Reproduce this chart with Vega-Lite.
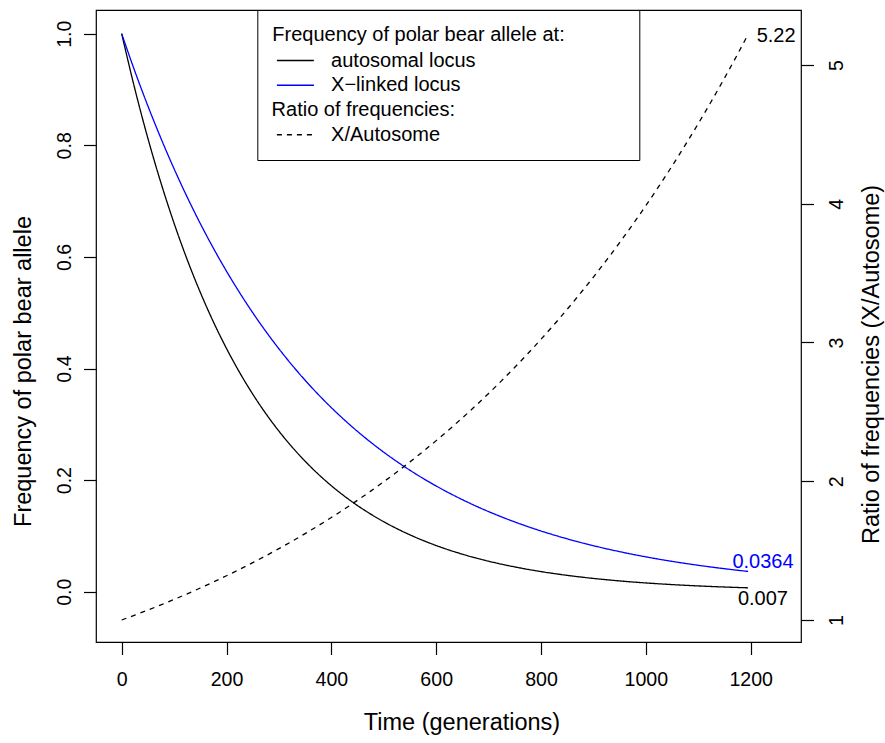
{
  "$schema": "https://vega.github.io/schema/vega-lite/v6.json",
  "width": 705,
  "height": 632,
  "autosize": {"type": "none"},
  "padding": {"left": 96, "top": 10, "right": 84, "bottom": 101},
  "background": "white",
  "config": {
    "font": "Liberation Sans",
    "view": {"stroke": "black", "strokeWidth": 1.2},
    "axis": {
      "domain": false, "grid": false, "tickSize": 12.5, "tickColor": "black", "tickWidth": 1.2,
      "labelColor": "black", "labelFontSize": 19.6, "labelOverlap": false, "labelFlush": false,
      "titleColor": "black", "titleFontSize": 23.5, "titleFontWeight": "normal"
    },
    "legend": {"titleFontWeight": "normal"}
  },
  "datasets": {
    "freq": [
      {"t": 0, "series": "autosomal locus", "freq": 1}, {"t": 0, "series": "X−linked locus", "freq": 1},
      {"t": 25, "series": "autosomal locus", "freq": 0.9014}, {"t": 25, "series": "X−linked locus", "freq": 0.93303},
      {"t": 50, "series": "autosomal locus", "freq": 0.81253}, {"t": 50, "series": "X−linked locus", "freq": 0.87055},
      {"t": 75, "series": "autosomal locus", "freq": 0.73241}, {"t": 75, "series": "X−linked locus", "freq": 0.81225},
      {"t": 100, "series": "autosomal locus", "freq": 0.6602}, {"t": 100, "series": "X−linked locus", "freq": 0.75786},
      {"t": 125, "series": "autosomal locus", "freq": 0.5951}, {"t": 125, "series": "X−linked locus", "freq": 0.70711},
      {"t": 150, "series": "autosomal locus", "freq": 0.53643}, {"t": 150, "series": "X−linked locus", "freq": 0.65975},
      {"t": 175, "series": "autosomal locus", "freq": 0.48354}, {"t": 175, "series": "X−linked locus", "freq": 0.61557},
      {"t": 200, "series": "autosomal locus", "freq": 0.43586}, {"t": 200, "series": "X−linked locus", "freq": 0.57435},
      {"t": 225, "series": "autosomal locus", "freq": 0.39289}, {"t": 225, "series": "X−linked locus", "freq": 0.53589},
      {"t": 250, "series": "autosomal locus", "freq": 0.35415}, {"t": 250, "series": "X−linked locus", "freq": 0.5},
      {"t": 275, "series": "autosomal locus", "freq": 0.31923}, {"t": 275, "series": "X−linked locus", "freq": 0.46652},
      {"t": 300, "series": "autosomal locus", "freq": 0.28775}, {"t": 300, "series": "X−linked locus", "freq": 0.43528},
      {"t": 325, "series": "autosomal locus", "freq": 0.25938}, {"t": 325, "series": "X−linked locus", "freq": 0.40613},
      {"t": 350, "series": "autosomal locus", "freq": 0.23381}, {"t": 350, "series": "X−linked locus", "freq": 0.37893},
      {"t": 375, "series": "autosomal locus", "freq": 0.21076}, {"t": 375, "series": "X−linked locus", "freq": 0.35355},
      {"t": 400, "series": "autosomal locus", "freq": 0.18997}, {"t": 400, "series": "X−linked locus", "freq": 0.32988},
      {"t": 425, "series": "autosomal locus", "freq": 0.17124}, {"t": 425, "series": "X−linked locus", "freq": 0.30779},
      {"t": 450, "series": "autosomal locus", "freq": 0.15436}, {"t": 450, "series": "X−linked locus", "freq": 0.28718},
      {"t": 475, "series": "autosomal locus", "freq": 0.13914}, {"t": 475, "series": "X−linked locus", "freq": 0.26794},
      {"t": 500, "series": "autosomal locus", "freq": 0.12542}, {"t": 500, "series": "X−linked locus", "freq": 0.25},
      {"t": 525, "series": "autosomal locus", "freq": 0.11305}, {"t": 525, "series": "X−linked locus", "freq": 0.23326},
      {"t": 550, "series": "autosomal locus", "freq": 0.10191}, {"t": 550, "series": "X−linked locus", "freq": 0.21764},
      {"t": 575, "series": "autosomal locus", "freq": 0.09186}, {"t": 575, "series": "X−linked locus", "freq": 0.20306},
      {"t": 600, "series": "autosomal locus", "freq": 0.0828}, {"t": 600, "series": "X−linked locus", "freq": 0.18947},
      {"t": 625, "series": "autosomal locus", "freq": 0.07464}, {"t": 625, "series": "X−linked locus", "freq": 0.17678},
      {"t": 650, "series": "autosomal locus", "freq": 0.06728}, {"t": 650, "series": "X−linked locus", "freq": 0.16494},
      {"t": 675, "series": "autosomal locus", "freq": 0.06065}, {"t": 675, "series": "X−linked locus", "freq": 0.15389},
      {"t": 700, "series": "autosomal locus", "freq": 0.05467}, {"t": 700, "series": "X−linked locus", "freq": 0.14359},
      {"t": 725, "series": "autosomal locus", "freq": 0.04928}, {"t": 725, "series": "X−linked locus", "freq": 0.13397},
      {"t": 750, "series": "autosomal locus", "freq": 0.04442}, {"t": 750, "series": "X−linked locus", "freq": 0.125},
      {"t": 775, "series": "autosomal locus", "freq": 0.04004}, {"t": 775, "series": "X−linked locus", "freq": 0.11663},
      {"t": 800, "series": "autosomal locus", "freq": 0.03609}, {"t": 800, "series": "X−linked locus", "freq": 0.10882},
      {"t": 825, "series": "autosomal locus", "freq": 0.03253}, {"t": 825, "series": "X−linked locus", "freq": 0.10153},
      {"t": 850, "series": "autosomal locus", "freq": 0.02932}, {"t": 850, "series": "X−linked locus", "freq": 0.09473},
      {"t": 875, "series": "autosomal locus", "freq": 0.02643}, {"t": 875, "series": "X−linked locus", "freq": 0.08839},
      {"t": 900, "series": "autosomal locus", "freq": 0.02383}, {"t": 900, "series": "X−linked locus", "freq": 0.08247},
      {"t": 925, "series": "autosomal locus", "freq": 0.02148}, {"t": 925, "series": "X−linked locus", "freq": 0.07695},
      {"t": 950, "series": "autosomal locus", "freq": 0.01936}, {"t": 950, "series": "X−linked locus", "freq": 0.07179},
      {"t": 975, "series": "autosomal locus", "freq": 0.01745}, {"t": 975, "series": "X−linked locus", "freq": 0.06699},
      {"t": 1000, "series": "autosomal locus", "freq": 0.01573}, {"t": 1000, "series": "X−linked locus", "freq": 0.0625},
      {"t": 1025, "series": "autosomal locus", "freq": 0.01418}, {"t": 1025, "series": "X−linked locus", "freq": 0.05832},
      {"t": 1050, "series": "autosomal locus", "freq": 0.01278}, {"t": 1050, "series": "X−linked locus", "freq": 0.05441},
      {"t": 1075, "series": "autosomal locus", "freq": 0.01152}, {"t": 1075, "series": "X−linked locus", "freq": 0.05077},
      {"t": 1100, "series": "autosomal locus", "freq": 0.01039}, {"t": 1100, "series": "X−linked locus", "freq": 0.04737},
      {"t": 1125, "series": "autosomal locus", "freq": 0.00936}, {"t": 1125, "series": "X−linked locus", "freq": 0.04419},
      {"t": 1150, "series": "autosomal locus", "freq": 0.00844}, {"t": 1150, "series": "X−linked locus", "freq": 0.04124},
      {"t": 1175, "series": "autosomal locus", "freq": 0.00761}, {"t": 1175, "series": "X−linked locus", "freq": 0.03847},
      {"t": 1195, "series": "autosomal locus", "freq": 0.007}, {"t": 1195, "series": "X−linked locus", "freq": 0.0364}
    ],
    "ratio": [
      {"t": 0, "series": "X/Autosome", "ratio": 1}, {"t": 25, "series": "X/Autosome", "ratio": 1.03518},
      {"t": 50, "series": "X/Autosome", "ratio": 1.07159}, {"t": 75, "series": "X/Autosome", "ratio": 1.10928},
      {"t": 100, "series": "X/Autosome", "ratio": 1.1483}, {"t": 125, "series": "X/Autosome", "ratio": 1.18869},
      {"t": 150, "series": "X/Autosome", "ratio": 1.23051}, {"t": 175, "series": "X/Autosome", "ratio": 1.27379},
      {"t": 200, "series": "X/Autosome", "ratio": 1.3186}, {"t": 225, "series": "X/Autosome", "ratio": 1.36498},
      {"t": 250, "series": "X/Autosome", "ratio": 1.41299}, {"t": 275, "series": "X/Autosome", "ratio": 1.4627},
      {"t": 300, "series": "X/Autosome", "ratio": 1.51415}, {"t": 325, "series": "X/Autosome", "ratio": 1.56741},
      {"t": 350, "series": "X/Autosome", "ratio": 1.62254}, {"t": 375, "series": "X/Autosome", "ratio": 1.67962},
      {"t": 400, "series": "X/Autosome", "ratio": 1.7387}, {"t": 425, "series": "X/Autosome", "ratio": 1.79986},
      {"t": 450, "series": "X/Autosome", "ratio": 1.86317}, {"t": 475, "series": "X/Autosome", "ratio": 1.92871},
      {"t": 500, "series": "X/Autosome", "ratio": 1.99655}, {"t": 525, "series": "X/Autosome", "ratio": 2.06678},
      {"t": 550, "series": "X/Autosome", "ratio": 2.13948}, {"t": 575, "series": "X/Autosome", "ratio": 2.21474},
      {"t": 600, "series": "X/Autosome", "ratio": 2.29264}, {"t": 625, "series": "X/Autosome", "ratio": 2.37329},
      {"t": 650, "series": "X/Autosome", "ratio": 2.45677}, {"t": 675, "series": "X/Autosome", "ratio": 2.54319},
      {"t": 700, "series": "X/Autosome", "ratio": 2.63264}, {"t": 725, "series": "X/Autosome", "ratio": 2.72525},
      {"t": 750, "series": "X/Autosome", "ratio": 2.82111}, {"t": 775, "series": "X/Autosome", "ratio": 2.92034},
      {"t": 800, "series": "X/Autosome", "ratio": 3.02307}, {"t": 825, "series": "X/Autosome", "ratio": 3.12941},
      {"t": 850, "series": "X/Autosome", "ratio": 3.23948}, {"t": 875, "series": "X/Autosome", "ratio": 3.35343},
      {"t": 900, "series": "X/Autosome", "ratio": 3.47139}, {"t": 925, "series": "X/Autosome", "ratio": 3.5935},
      {"t": 950, "series": "X/Autosome", "ratio": 3.7199}, {"t": 975, "series": "X/Autosome", "ratio": 3.85076},
      {"t": 1000, "series": "X/Autosome", "ratio": 3.98621}, {"t": 1025, "series": "X/Autosome", "ratio": 4.12642},
      {"t": 1050, "series": "X/Autosome", "ratio": 4.27157}, {"t": 1075, "series": "X/Autosome", "ratio": 4.42183},
      {"t": 1100, "series": "X/Autosome", "ratio": 4.57737}, {"t": 1125, "series": "X/Autosome", "ratio": 4.73838},
      {"t": 1150, "series": "X/Autosome", "ratio": 4.90505}, {"t": 1175, "series": "X/Autosome", "ratio": 5.07759},
      {"t": 1195, "series": "X/Autosome", "ratio": 5.22}
    ]
  },
  "layer": [
    {
      "data": {"name": "freq"},
      "encoding": {
        "x": {
          "field": "t", "type": "quantitative",
          "scale": {"domain": [-49, 1296], "nice": false, "zero": false},
          "axis": {"values": [0, 200, 400, 600, 800, 1000, 1200], "format": "d", "labelPadding": 16,
                   "title": "Time (generations)", "titleX": 365.5, "titleY": 87, "titleAlign": "center", "titleBaseline": "alphabetic"}
        },
        "y": {
          "field": "freq", "type": "quantitative",
          "scale": {"domain": [-0.0901, 1.0425], "nice": false, "zero": false},
          "axis": {"orient": "left", "values": [0, 0.2, 0.4, 0.6, 0.8, 1], "format": ".1f",
                   "labelAngle": -90, "labelAlign": "center", "labelBaseline": "alphabetic", "labelPadding": 13.5,
                   "title": "Frequency of polar bear allele", "titleAngle": -90, "titleX": -65.5, "titleY": 361,
                   "titleAlign": "center", "titleBaseline": "alphabetic"}
        }
      },
      "layer": [
        {
          "mark": {"type": "line", "strokeWidth": 1.3, "interpolate": "monotone"},
          "encoding": {
            "color": {
              "field": "series", "type": "nominal",
              "scale": {"domain": ["autosomal locus", "X−linked locus", "Ratio of frequencies:", "X/Autosome"], "range": ["black", "blue", "transparent", "black"]},
              "legend": {
                "title": "Frequency of polar bear allele at:", "orient": "none", "legendX": 161.3, "legendY": 0, "direction": "vertical",
                "padding": 15, "strokeColor": "black", "fillColor": "white",
                "titleFontSize": 20, "titleFontWeight": "normal", "titleColor": "black", "titleLimit": 400, "titlePadding": 5.5,
                "labelFontSize": 20, "labelColor": "black", "labelLimit": 400, "labelOffset": 25.7,
                "symbolType": "M-3.7,0H3.7", "symbolSize": 100, "symbolStrokeWidth": 1.3, "symbolOffset": 13.1, "symbolFillColor": "transparent",
                "rowPadding": 4.75,
                "encode": {
                  "labels": {"update": {"dx": {"signal": "datum.value === 'Ratio of frequencies:' ? -59.5 : 0"}}},
                  "symbols": {"update": {"shape": {"signal": "datum.value === 'Ratio of frequencies:' ? 'M0,0H65.2' : 'M-3.7,0H3.7'"}}}
                }
              }
            },
            "strokeDash": {
              "field": "series", "type": "nominal",
              "scale": {"domain": ["autosomal locus", "X−linked locus", "Ratio of frequencies:", "X/Autosome"], "range": [[1, 0], [1, 0], [1, 0], [5, 5]]},
              "legend": {
                "title": "Frequency of polar bear allele at:", "orient": "none", "legendX": 161.3, "legendY": 0, "direction": "vertical",
                "padding": 15, "strokeColor": "black", "fillColor": "white",
                "titleFontSize": 20, "titleFontWeight": "normal", "titleColor": "black", "titleLimit": 400, "titlePadding": 5.5,
                "labelFontSize": 20, "labelColor": "black", "labelLimit": 400, "labelOffset": 25.7,
                "symbolType": "M-3.7,0H3.7", "symbolSize": 100, "symbolStrokeWidth": 1.3, "symbolOffset": 13.1, "symbolFillColor": "transparent",
                "rowPadding": 4.75,
                "encode": {
                  "labels": {"update": {"dx": {"signal": "datum.value === 'Ratio of frequencies:' ? -59.5 : 0"}}},
                  "symbols": {"update": {"shape": {"signal": "datum.value === 'Ratio of frequencies:' ? 'M0,0H65.2' : 'M-3.7,0H3.7'"}}}
                }
              }
            }
          }
        },
        {
          "transform": [{"filter": "datum.t == 1195 && datum.series == 'X−linked locus'"}],
          "mark": {"type": "text", "align": "center", "baseline": "middle", "dx": 14.9, "dy": -9.9, "color": "blue", "fontSize": 20},
          "encoding": {"text": {"field": "freq", "type": "quantitative", "format": "~g"}}
        },
        {
          "transform": [{"filter": "datum.t == 1195 && datum.series == 'autosomal locus'"}],
          "mark": {"type": "text", "align": "center", "baseline": "middle", "dx": 14.9, "dy": 11.5, "color": "black", "fontSize": 20},
          "encoding": {"text": {"field": "freq", "type": "quantitative", "format": "~g"}}
        }
      ]
    },
    {
      "data": {"name": "ratio"},
      "encoding": {
        "x": {
          "field": "t", "type": "quantitative",
          "scale": {"domain": [-49, 1296], "nice": false, "zero": false},
          "axis": {"values": [0, 200, 400, 600, 800, 1000, 1200], "format": "d", "labelPadding": 16,
                   "title": "Time (generations)", "titleX": 365.5, "titleY": 87, "titleAlign": "center", "titleBaseline": "alphabetic"}
        },
        "y": {
          "field": "ratio", "type": "quantitative",
          "scale": {"domain": [0.8414, 5.396], "nice": false, "zero": false},
          "axis": {"orient": "right", "values": [1, 2, 3, 4, 5], "format": "d",
                   "labelAngle": -90, "labelAlign": "center", "labelBaseline": "alphabetic", "labelPadding": 28.5,
                   "title": "Ratio of frequencies (X/Autosome)", "titleAngle": -90, "titleX": 77.5, "titleY": 354,
                   "titleAlign": "center", "titleBaseline": "alphabetic"}
        }
      },
      "layer": [
        {
          "mark": {"type": "line", "strokeWidth": 1.3, "interpolate": "monotone"},
          "encoding": {
            "color": {
              "field": "series", "type": "nominal",
              "scale": {"domain": ["autosomal locus", "X−linked locus", "Ratio of frequencies:", "X/Autosome"], "range": ["black", "blue", "transparent", "black"]},
              "legend": {
                "title": "Frequency of polar bear allele at:", "orient": "none", "legendX": 161.3, "legendY": 0, "direction": "vertical",
                "padding": 15, "strokeColor": "black", "fillColor": "white",
                "titleFontSize": 20, "titleFontWeight": "normal", "titleColor": "black", "titleLimit": 400, "titlePadding": 5.5,
                "labelFontSize": 20, "labelColor": "black", "labelLimit": 400, "labelOffset": 25.7,
                "symbolType": "M-3.7,0H3.7", "symbolSize": 100, "symbolStrokeWidth": 1.3, "symbolOffset": 13.1, "symbolFillColor": "transparent",
                "rowPadding": 4.75,
                "encode": {
                  "labels": {"update": {"dx": {"signal": "datum.value === 'Ratio of frequencies:' ? -59.5 : 0"}}},
                  "symbols": {"update": {"shape": {"signal": "datum.value === 'Ratio of frequencies:' ? 'M0,0H65.2' : 'M-3.7,0H3.7'"}}}
                }
              }
            },
            "strokeDash": {
              "field": "series", "type": "nominal",
              "scale": {"domain": ["autosomal locus", "X−linked locus", "Ratio of frequencies:", "X/Autosome"], "range": [[1, 0], [1, 0], [1, 0], [5, 5]]},
              "legend": {
                "title": "Frequency of polar bear allele at:", "orient": "none", "legendX": 161.3, "legendY": 0, "direction": "vertical",
                "padding": 15, "strokeColor": "black", "fillColor": "white",
                "titleFontSize": 20, "titleFontWeight": "normal", "titleColor": "black", "titleLimit": 400, "titlePadding": 5.5,
                "labelFontSize": 20, "labelColor": "black", "labelLimit": 400, "labelOffset": 25.7,
                "symbolType": "M-3.7,0H3.7", "symbolSize": 100, "symbolStrokeWidth": 1.3, "symbolOffset": 13.1, "symbolFillColor": "transparent",
                "rowPadding": 4.75,
                "encode": {
                  "labels": {"update": {"dx": {"signal": "datum.value === 'Ratio of frequencies:' ? -59.5 : 0"}}},
                  "symbols": {"update": {"shape": {"signal": "datum.value === 'Ratio of frequencies:' ? 'M0,0H65.2' : 'M-3.7,0H3.7'"}}}
                }
              }
            }
          }
        },
        {
          "transform": [{"filter": "datum.t == 1195"}],
          "mark": {"type": "text", "align": "left", "baseline": "middle", "dx": 8.6, "dy": 1.2, "color": "black", "fontSize": 20},
          "encoding": {"text": {"field": "ratio", "type": "quantitative", "format": "~g"}}
        }
      ]
    }
  ],
  "resolve": {"scale": {"y": "independent"}}
}
